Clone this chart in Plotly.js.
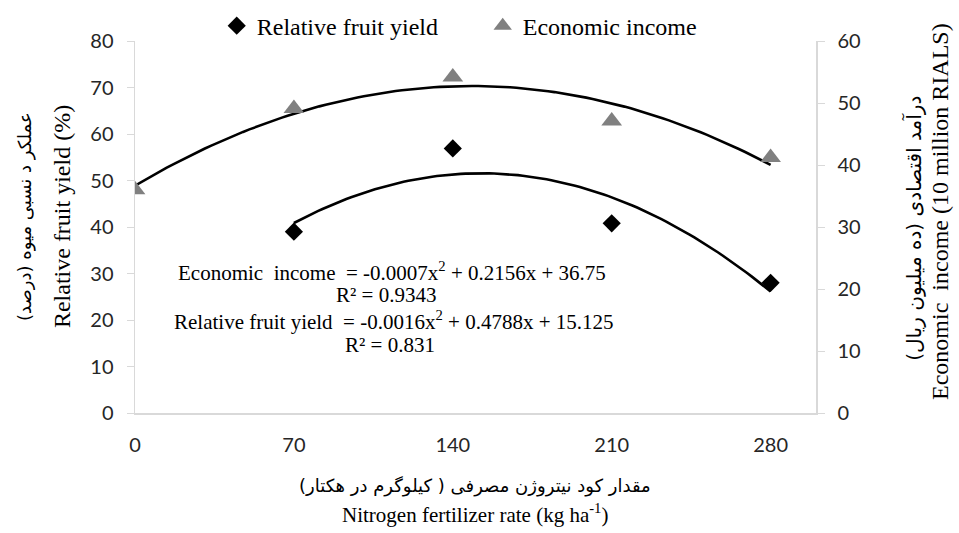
<!DOCTYPE html>
<html>
<head>
<meta charset="utf-8">
<script src="https://cdn.plot.ly/plotly-3.0.1.min.js"></script>
<style>html,body{margin:0;padding:0;background:#fff;}#chart{width:959px;height:533px;}</style>
</head>
<body>
<div id="chart"></div>
<script>
// ---- data ----
var nitrogenRates = [0, 70, 140, 210, 280];
var yieldRates = [70, 140, 210, 280];
var relativeYield = [39.0, 56.9, 40.8, 28.0];        // % (left axis)
var economicIncome = [36.0, 49.1, 54.2, 47.1, 41.2];  // 10 million rials (right axis)
var xTickVals = [0, 70, 140, 210, 280];
var leftTicks = [0, 10, 20, 30, 40, 50, 60, 70, 80];
var rightTicks = [0, 10, 20, 30, 40, 50, 60];

var eqIncome = 'Economic  income  = -0.0007x<sup>2</sup> + 0.2156x + 36.75';
var r2Income = 'R² = 0.9343';
var eqYield = 'Relative fruit yield  = -0.0016x<sup>2</sup> + 0.4788x + 15.125';
var r2Yield = 'R² = 0.831';

// ---- quadratic least-squares trendline (like the spreadsheet's polynomial trendline) ----
function quadFit(xs, ys) {
  var n = xs.length, S = [0,0,0,0,0], T = [0,0,0];
  for (var i = 0; i < n; i++) {
    var p = 1;
    for (var k = 0; k <= 4; k++) { S[k] += p; if (k <= 2) T[k] += p * ys[i]; p *= xs[i]; }
  }
  var A = [[S[0],S[1],S[2],T[0]],[S[1],S[2],S[3],T[1]],[S[2],S[3],S[4],T[2]]];
  for (var c = 0; c < 3; c++) {
    for (var r = c + 1; r < 3; r++) {
      var f = A[r][c] / A[c][c];
      for (var j = c; j < 4; j++) A[r][j] -= f * A[c][j];
    }
  }
  var b = [0,0,0];
  for (var r2 = 2; r2 >= 0; r2--) {
    var s = A[r2][3];
    for (var j2 = r2 + 1; j2 < 3; j2++) s -= A[r2][j2] * b[j2];
    b[r2] = s / A[r2][r2];
  }
  return b;
}
function curve(xs, ys) {
  var b = quadFit(xs, ys), lo = Math.min.apply(null, xs), hi = Math.max.apply(null, xs);
  var cx = [], cy = [];
  for (var i = 0; i <= 100; i++) {
    var x = lo + (hi - lo) * i / 100;
    cx.push(x); cy.push(b[0] + b[1] * x + b[2] * x * x);
  }
  return {x: cx, y: cy};
}
var cY = curve(yieldRates, relativeYield);
var cI = curve(nitrogenRates, economicIncome);

var serif = 'Liberation Serif, Times New Roman, serif';
var persian = 'DejaVu Sans, sans-serif';
var tickFont = {family: 'Lato, Open Sans, sans-serif', size: 20, color: '#262626'};

var traces = [
  {x: cY.x, y: cY.y, mode: 'lines', line: {color: '#000', width: 2.6}, showlegend: false, hoverinfo: 'skip', yaxis: 'y'},
  {x: cI.x, y: cI.y, mode: 'lines', line: {color: '#000', width: 2.6}, showlegend: false, hoverinfo: 'skip', yaxis: 'y2'},
  {x: yieldRates, y: relativeYield, name: 'Relative fruit yield', mode: 'markers', yaxis: 'y',
   marker: {symbol: 'diamond', size: 14, color: '#000'}},
  {x: nitrogenRates, y: economicIncome, name: 'Economic income', mode: 'markers', yaxis: 'y2',
   marker: {symbol: 'triangle-up', size: 18, color: '#808080'}}
];

function ann(text, x, y, font, angle) {
  var a = {text: text, x: x, y: y, xref: 'paper', yref: 'paper', showarrow: false,
           xanchor: 'center', yanchor: 'middle', font: font};
  if (angle !== undefined) a.textangle = angle;
  return a;
}

var layout = {
  width: 959, height: 533,
  margin: {l: 135, r: 143, t: 41, b: 120, autoexpand: false},
  paper_bgcolor: '#fff', plot_bgcolor: '#fff',
  showlegend: true,
  legend: {orientation: 'h', x: 0.12, xanchor: 'left', y: 1.04, yanchor: 'middle',
           entrywidth: 221, entrywidthmode: 'pixels',
           font: {family: serif, size: 24, color: '#000'}, traceorder: 'normal'},
  xaxis: {range: [0, 300], tickvals: xTickVals, ticks: '', showgrid: false, zeroline: false,
          showline: true, linecolor: '#d9d9d9', linewidth: 1.5, ticklabelstandoff: 13,
          tickfont: tickFont},
  yaxis: {range: [0, 80], tickvals: leftTicks, ticks: 'outside', ticklen: 7, tickcolor: '#d9d9d9',
          showgrid: false, zeroline: false, showline: true, linecolor: '#d9d9d9', linewidth: 1.5,
          ticklabelstandoff: 9, tickfont: tickFont},
  yaxis2: {range: [0, 60], tickvals: rightTicks, overlaying: 'y', side: 'right', ticks: 'outside',
           ticklen: 7, tickcolor: '#d9d9d9', showgrid: false, zeroline: false, showline: true,
           linecolor: '#d9d9d9', linewidth: 1.5, ticklabelstandoff: 9, tickfont: tickFont},
  annotations: [
    ann(eqIncome, 0.377, 0.381, {family: serif, size: 21, color: '#000'}),
    ann(r2Income, 0.369, 0.316, {family: serif, size: 21, color: '#000'}),
    ann(eqYield, 0.380, 0.249, {family: serif, size: 21, color: '#000'}),
    ann(r2Yield, 0.374, 0.184, {family: serif, size: 21, color: '#000'}),
    ann('عملکر د نسبی میوه (درصد)', -0.1615, 0.527, {family: persian, size: 18, color: '#000'}, -90),
    ann('Relative fruit yield (%)', -0.107, 0.527, {family: serif, size: 24, color: '#000'}, -90),
    ann('درآمد اقتصادی (ده میلیون ریال)', 1.142, 0.497, {family: persian, size: 20, color: '#000'}, -90),
    ann('Economic  income (10 million RIALS)', 1.182, 0.543, {family: serif, size: 24, color: '#000'}, -90),
    ann('مقدار کود نیتروژن مصرفی ( کیلوگرم در هکتار)', 0.499, -0.197, {family: persian, size: 18, color: '#000'}),
    ann('Nitrogen fertilizer rate (kg ha<sup>-1</sup>)', 0.499, -0.269, {family: serif, size: 21, color: '#000'})
  ]
};

Plotly.newPlot('chart', traces, layout, {staticPlot: true, displayModeBar: false});
</script>
</body>
</html>
